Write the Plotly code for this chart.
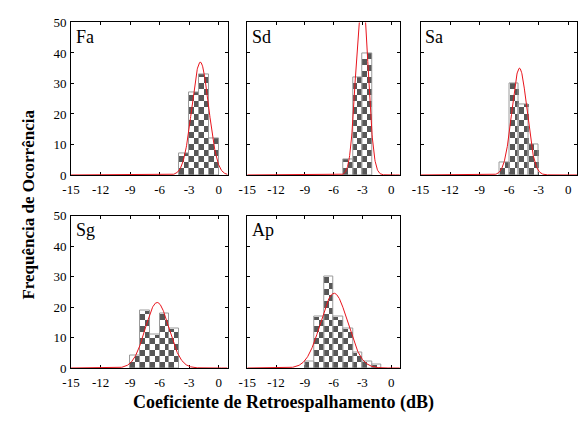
import numpy as np
import plotly.graph_objects as go

# ---------------- data ----------------
names = ["Fa", "Sd", "Sa", "Sg", "Ap"]
bin_centers = {
    "Fa": [-3.5, -2.5, -1.5, -0.5],
    "Sd": [-4.5, -3.5, -2.5],
    "Sa": [-6.5, -5.5, -4.5, -3.5],
    "Sg": [-8.5, -7.5, -6.5, -5.5, -4.5],
    "Ap": [-8.5, -7.5, -6.5, -5.5, -4.5, -3.5, -2.5, -1.5],
}
counts = {
    "Fa": [7, 27, 33, 12],
    "Sd": [5, 32, 40],
    "Sa": [4, 30, 23, 10],
    "Sg": [4, 19, 11, 18, 13],
    "Ap": [2, 17, 30, 17, 13, 5, 2, 1],
}
# fitted normal curve parameters (mean, std, peak height)
fit_mu = {"Fa": -1.87, "Sd": -3.05, "Sa": -4.95, "Sg": -6.25, "Ap": -5.95}
fit_sigma = {"Fa": 0.85, "Sd": 0.6, "Sa": 0.76, "Sg": 1.2, "Ap": 1.42}
fit_peak = {"Fa": 37, "Sd": 62, "Sa": 35, "Sg": 21.5, "Ap": 24.5}

x_ticks = [-15, -12, -9, -6, -3, 0]
y_ticks = [0, 10, 20, 30, 40, 50]

# ---------------- layout geometry ----------------
W, H = 581, 432
col_px = [(63, 222), (242, 397), (418, 577)]
row_px = [(16, 174), (216, 374)]
pos = {"Fa": (0, 0), "Sd": (0, 1), "Sa": (0, 2), "Sg": (1, 0), "Ap": (1, 1)}

FONT = "Liberation Serif"
DARK = "#575757"
EDGE = "#9a9a9a"
BIN_W = 1.0
CHECK_H = 2.0

fig = go.Figure()
layout = dict(
    width=W, height=H, margin=dict(l=0, r=0, t=0, b=0),
    paper_bgcolor="white", plot_bgcolor="white",
    showlegend=False, barmode="overlay", bargap=0,
    font=dict(family=FONT, size=13, color="black"),
)
annotations = []

xcurve = np.linspace(-15, 0.9, 600)

for i, nm in enumerate(names):
    k = i + 1
    xa = "x" if k == 1 else f"x{k}"
    ya = "y" if k == 1 else f"y{k}"
    r, c = pos[nm]
    x0, x1 = col_px[c]
    y0, y1 = row_px[r]

    # checkerboard cells of each histogram bar
    cx, cb, ch = [], [], []
    for ctr, n in zip(bin_centers[nm], counts[nm]):
        for j in range(2):
            xc = ctr - BIN_W / 4 + j * BIN_W / 2
            kk = 0
            while kk * CHECK_H < n:
                b = kk * CHECK_H
                h = min(CHECK_H, n - b)
                if (j + kk) % 2 == 0:
                    cx.append(xc); cb.append(b); ch.append(h)
                kk += 1
    fig.add_trace(go.Bar(
        x=cx, y=ch, base=cb, width=BIN_W / 2,
        marker=dict(color=DARK, line=dict(width=0)),
        xaxis=xa, yaxis=ya, hoverinfo="skip"))
    # bar outlines
    fig.add_trace(go.Bar(
        x=bin_centers[nm], y=counts[nm], width=BIN_W,
        marker=dict(color="rgba(0,0,0,0)", line=dict(color=EDGE, width=1)),
        xaxis=xa, yaxis=ya, hoverinfo="skip"))
    # fitted normal curve
    ycurve = fit_peak[nm] * np.exp(-(xcurve - fit_mu[nm]) ** 2 / (2 * fit_sigma[nm] ** 2))
    fig.add_trace(go.Scatter(
        x=xcurve, y=ycurve, mode="lines",
        line=dict(color="#e8141c", width=1),
        xaxis=xa, yaxis=ya, hoverinfo="skip"))

    axcommon = dict(showline=True, linecolor="black", linewidth=1,
                    mirror="ticks", ticks="inside", ticklen=3, tickwidth=1,
                    tickcolor="black", showgrid=False, zeroline=False,
                    layer="below traces")
    layout["xaxis" if k == 1 else f"xaxis{k}"] = dict(
        domain=[x0 / W, x1 / W], range=[-15, 0.9], anchor=ya,
        tickvals=x_ticks, ticktext=[str(t) for t in x_ticks],
        ticklabelstandoff=2, tickfont=dict(size=13), **axcommon)
    layout["yaxis" if k == 1 else f"yaxis{k}"] = dict(
        domain=[1 - y1 / H, 1 - y0 / H], range=[0, 50], anchor=xa,
        tickvals=y_ticks, ticktext=[str(t) for t in y_ticks],
        showticklabels=(c == 0), ticklabelstandoff=1,
        tickfont=dict(size=13), **axcommon)

    annotations.append(dict(
        text=nm, xref="paper", yref="paper",
        x=(x0 + 3) / W, y=1 - (y0 + 3) / H, xanchor="left", yanchor="top",
        showarrow=False, font=dict(family=FONT, size=18, color="black")))

annotations.append(dict(
    text="<b>Coeficiente de Retroespalhamento (dB)</b>", xref="paper", yref="paper",
    x=279 / W, y=1 - 410 / H, xanchor="center", yanchor="middle",
    showarrow=False, font=dict(family=FONT, size=18, color="black")))
annotations.append(dict(
    text="<b>Frequência de Ocorrência</b>", xref="paper", yref="paper",
    x=20 / W, y=1 - 205 / H, xanchor="center", yanchor="middle", textangle=-90,
    showarrow=False, font=dict(family=FONT, size=17, color="black")))

layout["annotations"] = annotations
fig.update_layout(**layout)
fig.write_html("out.html")
